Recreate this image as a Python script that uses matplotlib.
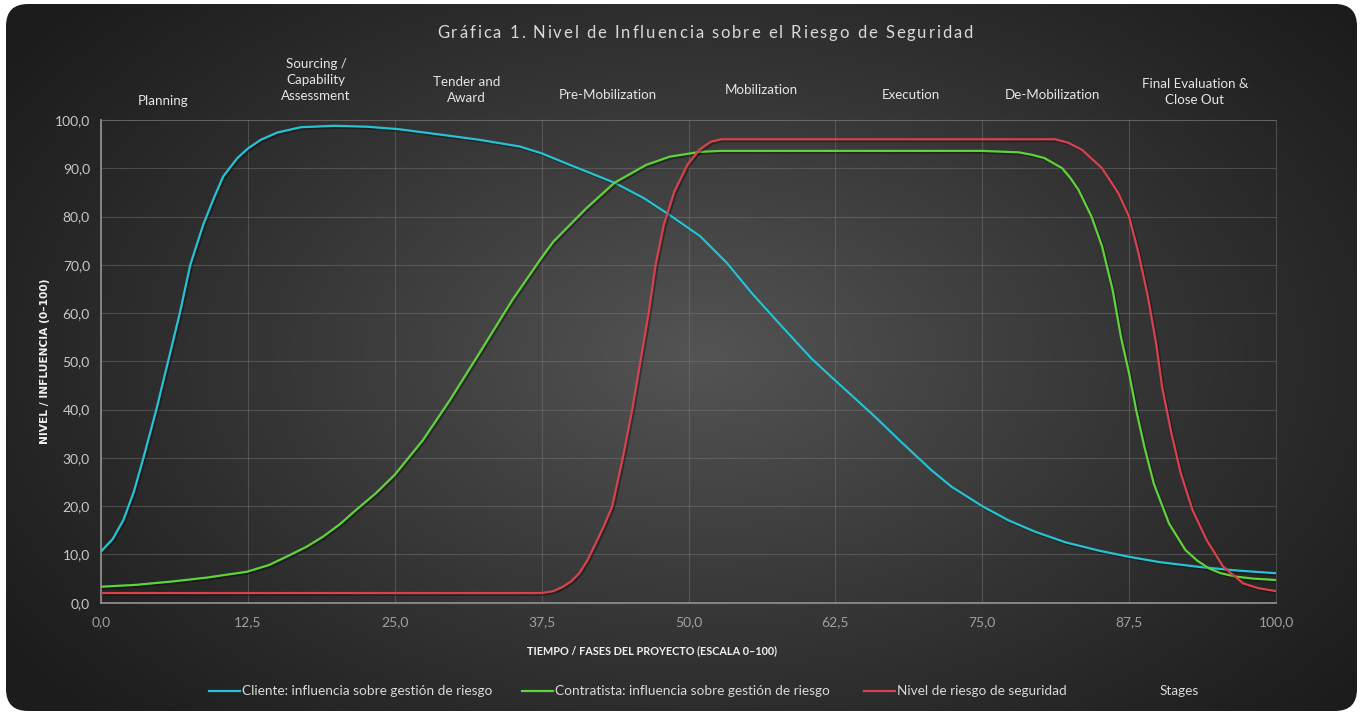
import numpy as np
import matplotlib
matplotlib.use("Agg")
import matplotlib.pyplot as plt
from matplotlib.patches import FancyBboxPatch
from matplotlib.lines import Line2D
import matplotlib.patheffects as pe

# ---------------- data ----------------
title = "Gráfica 1. Nivel de Influencia sobre el Riesgo de Seguridad"
x_label = "TIEMPO / FASES DEL PROYECTO (ESCALA 0–100)"
y_label = "NIVEL / INFLUENCIA (0–100)"

series_names = [
    "Cliente: influencia sobre gestión de riesgo",
    "Contratista: influencia sobre gestión de riesgo",
    "Nivel de riesgo de seguridad",
    "Stages",
]

stages = ["Planning", "Sourcing /\nCapability\nAssessment", "Tender and\nAward",
          "Pre-Mobilization", "Mobilization", "Execution", "De-Mobilization",
          "Final Evaluation &\nClose Out"]

cliente_x = [0, 1.0, 1.9, 2.8, 3.6, 4.7, 5.7, 6.7, 7.6, 8.7, 9.6, 10.4, 11.6, 12.5, 13.6,
             15.0, 17.0, 19.9, 22.7, 25.3, 28.8, 32.2, 35.65, 37.5, 39.9, 43.7, 46.2, 48.4,
             51.0, 53.3, 55.4, 57.7, 60.5, 62.5, 64.4, 66.1, 67.8, 69.2, 70.7, 72.4, 75.0,
             77.2, 79.5, 82.1, 84.9, 87.5, 90.1, 93.5, 96.5, 100]
cliente_y = [10.6, 13.2, 17.1, 23.0, 29.9, 39.9, 49.9, 59.9, 70.0, 78.3, 83.8, 88.3, 92.1,
             94.1, 95.9, 97.4, 98.5, 98.8, 98.6, 98.1, 97.0, 95.9, 94.5, 93.1, 90.7, 87.0,
             83.8, 80.3, 75.9, 70.3, 64.1, 57.9, 50.5, 46.0, 41.8, 38.0, 34.0, 30.8, 27.4,
             24.0, 20.0, 17.1, 14.7, 12.5, 10.8, 9.5, 8.4, 7.4, 6.7, 6.1]

contratista_x = [0, 3, 6.1, 9, 12.4, 14.3, 16.1, 17.5, 18.9, 20.3, 21.7, 23.4, 25, 27.4,
                 29.7, 32.2, 35, 37.5, 38.5, 40.0, 41.3, 43.7, 46.4, 48.4, 51.0, 52.7, 75,
                 78.1, 79.2, 80.3, 81.8, 82.5, 83.2, 84.3, 85.2, 86.1, 86.8, 87.5, 88.1,
                 88.8, 89.6, 90.1, 90.9, 92.3, 93.3, 94.3, 95.3, 96.6, 98.0, 100]
contratista_y = [3.3, 3.7, 4.4, 5.2, 6.4, 7.8, 9.9, 11.6, 13.7, 16.2, 19.2, 22.7, 26.5,
                 33.7, 42.0, 51.7, 62.7, 71.5, 74.8, 78.5, 81.7, 87.0, 90.7, 92.4, 93.4,
                 93.6, 93.6, 93.3, 92.8, 92.1, 90.0, 88.0, 85.5, 80.0, 73.8, 64.8, 55.1,
                 47.5, 39.9, 32.3, 24.7, 21.5, 16.4, 10.9, 8.7, 7.1, 6.1, 5.4, 5.0, 4.7]

riesgo_x = [0, 37.5, 38.5, 39.3, 40.0, 40.7, 41.4, 42.1, 42.8, 43.5, 44.4, 45.2, 45.9,
            46.6, 47.2, 47.9, 48.8, 49.9, 50.9, 51.9, 52.8, 81.2, 82.3, 83.5, 85.2, 86.6,
            87.5, 88.3, 89.1, 89.8, 90.3, 91.1, 91.9, 92.9, 94.1, 95.5, 97.2, 98.5, 100]
riesgo_y = [2.0, 2.0, 2.4, 3.3, 4.4, 6.1, 8.8, 12.3, 15.9, 19.9, 29.9, 39.9, 49.9, 59.9,
            70.0, 78.3, 85.2, 90.7, 93.8, 95.5, 96.0, 96.0, 95.3, 93.8, 90.0, 84.8, 80.0,
            72.4, 63.4, 53.7, 44.8, 35.1, 26.8, 19.2, 13.0, 7.5, 4.0, 3.0, 2.4]

x_ticks = [0, 12.5, 25, 37.5, 50, 62.5, 75, 87.5, 100]
y_ticks = [0, 10, 20, 30, 40, 50, 60, 70, 80, 90, 100]

# ---------------- layout / style ----------------
W, H = 1362, 712
FONT = "Lato"
plt.rcParams["font.family"] = [FONT, "DejaVu Sans"]

colors = ["#25c3d3", "#5fd33a", "#d8424c"]
stage_pos = [(5.3, 103.9), (18.3, 108.2), (31.1, 106.3), (43.1, 105.1),
             (56.2, 106.3), (68.9, 105.1), (81.0, 105.1), (93.1, 105.7)]

fig = plt.figure(figsize=(W / 100, H / 100), dpi=100)
fig.patch.set_facecolor("white")
renderer = fig.canvas.get_renderer()

# background with radial gradient and rounded corners
bg = fig.add_axes([0, 0, 1, 1])
bg.set_axis_off()
bg.set_xlim(0, W)
bg.set_ylim(H, 0)
yy, xx = np.mgrid[0:H, 0:W]
cx, cy = 700, 355
r = np.sqrt(((xx - cx) / (0.62 * W)) ** 2 + ((yy - cy) / (0.75 * H)) ** 2)
edge, center = 0x1c / 255, 0x54 / 255
v = edge + (center - edge) * np.clip(1 - r, 0, 1) ** 1.1
img = np.dstack([v, v, v])
im = bg.imshow(img, extent=(0, W, H, 0), origin="upper", interpolation="bilinear")
box = FancyBboxPatch((6, 4), W - 11, H - 5, boxstyle="round,pad=0,rounding_size=22",
                     transform=bg.transData, facecolor="none", edgecolor="none")
bg.add_patch(box)
im.set_clip_path(box)

# main axes
x0, x1, y0, y1 = 101, 1276, 602.7, 120
ax = fig.add_axes([x0 / W, 1 - y0 / H, (x1 - x0) / W, (y0 - y1) / H])
ax.patch.set_alpha(0)
ax.set_xlim(0, 100)
ax.set_ylim(0, 100)
ax.set_xticks(x_ticks)
ax.set_yticks(y_ticks)
ax.set_xticklabels([f"{t:.1f}".replace(".", ",") for t in x_ticks])
ax.set_yticklabels([f"{t:.1f}".replace(".", ",") for t in y_ticks])
ax.grid(True, color="#7a7a7a", lw=0.8, alpha=0.45)
ax.set_axisbelow(True)
for s in ["top", "right"]:
    ax.spines[s].set_color("#7a7a7a")
    ax.spines[s].set_alpha(0.45)
    ax.spines[s].set_linewidth(0.8)
for s in ["left", "bottom"]:
    ax.spines[s].set_color("#8c8c8c")
    ax.spines[s].set_linewidth(1.3)
ax.tick_params(axis="both", length=0)
ax.tick_params(axis="x", pad=10, labelsize=10, labelcolor="#a0a0a0")
ax.tick_params(axis="y", pad=8, labelsize=10, labelcolor="#c8c8c8")

shadow = [pe.SimpleLineShadow(offset=(1.2, -1.2), alpha=0.35, shadow_color="black"),
          pe.Normal()]
xs = [cliente_x, contratista_x, riesgo_x]
ys = [cliente_y, contratista_y, riesgo_y]
for xv, yv, c, name in zip(xs, ys, colors, series_names[:3]):
    ax.plot(xv, yv, color=c, lw=1.6, solid_joinstyle="round", solid_capstyle="round",
            zorder=3, label=name, path_effects=shadow)

for lab, (sx, sy) in zip(stages, stage_pos):
    ax.text(sx, sy, lab, ha="center", va="center", fontsize=9.6, color="#e6e6e6",
            linespacing=1.4, clip_on=False)


# title with letter tracking
def tracked_text(s, cx_px, cy_px, size, color, target_w):
    def w(txt):
        t = fig.text(0, 0, txt, fontsize=size)
        ww = t.get_window_extent(renderer).width
        t.remove()
        return ww
    bar = w("|")
    starts = [w(s[:i] + "|") - bar for i in range(len(s))]
    natural = w(s + "|") - bar
    track = (target_w - natural) / (len(s) - 1)
    left = cx_px - target_w / 2
    for i, ch in enumerate(s):
        if ch == " ":
            continue
        fig.text((left + starts[i] + track * i) / W, 1 - cy_px / H, ch, ha="left",
                 va="center", fontsize=size, color=color)


tracked_text(title, 705, 33, 12, "#d9d9d9", 536)

fig.text(652 / W, 1 - 651 / H, x_label, ha="center", va="center", fontsize=7.8,
         fontweight="bold", color="#f0f0f0")
fig.text(45 / W, 1 - 361 / H, y_label, ha="center", va="center", fontsize=7.7,
         fontweight="bold", color="#f0f0f0", rotation=90, family="DejaVu Sans")

# legend (manual, Excel-like placement)
leg_y = 1 - 691 / H
leg_items = [(209, colors[0]), (522, colors[1]), (864, colors[2]), (1127, None)]
for (hx, c), name in zip(leg_items, series_names):
    if c is not None:
        fig.add_artist(Line2D([hx / W, (hx + 31) / W], [leg_y, leg_y], color=c, lw=1.6,
                              transform=fig.transFigure))
    fig.text((hx + 33) / W, leg_y, name, ha="left", va="center", fontsize=9.8,
             color="#d9d9d9")

fig.savefig("out.png", dpi=100, facecolor="white")
